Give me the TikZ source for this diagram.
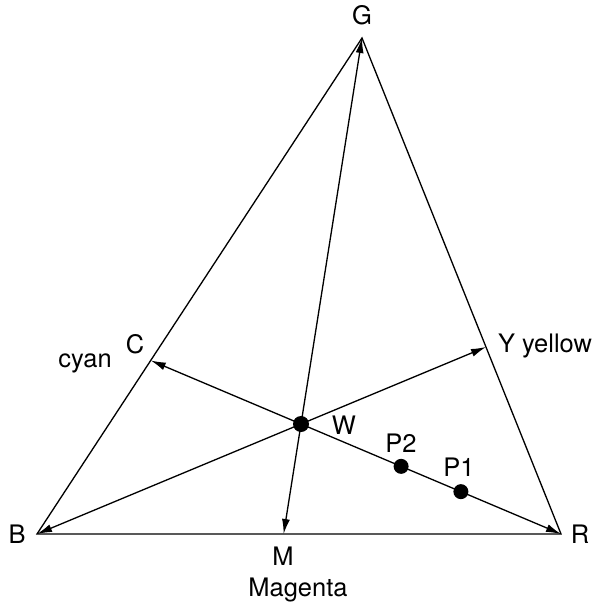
\documentclass[tikz,border=0pt]{standalone}
\usepackage{fontspec}
\setmainfont{TeX Gyre Heros}
\usetikzlibrary{arrows.meta,calc}

\begin{document}
\begin{tikzpicture}[x=0.02cm,y=-0.02cm,
  line width=0.75pt,
  font=\fontsize{14.5}{17}\selectfont,
  ray/.style={-{Latex[length=3mm,width=1.6mm]}},
  spot/.style={circle,fill=black,inner sep=0pt,minimum size=#1},
  lbl/.style={anchor=base,inner sep=0pt}
]
\useasboundingbox (0,0) rectangle (595,605);
% primaries and white point
\coordinate (G) at (362,38);
\coordinate (B) at (37,534);
\coordinate (R) at (561,534);
\coordinate (W) at (301,424);
% complementaries on the opposite sides
\coordinate (C) at (intersection of W--R and B--G);
\coordinate (Y) at (intersection of W--B and G--R);
\coordinate (M) at (intersection of W--G and B--R);

\draw (B) -- (G) -- (R) -- cycle;
\foreach \tip in {G,B,R,C,Y,M}
  \draw[ray] (W) -- (\tip);

\node[spot=3.2mm] (wdot) at (W) {};
\node[spot=3mm] (p2) at ($(W)!0.385!(R)$) {};
\node[spot=3mm] (p1) at ($(W)!0.615!(R)$) {};

\node[lbl] (glbl) at (362,25) {G};
\node[lbl] (blbl) at (17,543) {B};
\node[lbl] (rlbl) at (580,543) {R};
\node[lbl] (mlbl) at (283,565) {M};
\node[lbl] (magenta) at (298,596) {Magenta};
\node[lbl] (clbl) at (135,353) {C};
\node[lbl] (cyan) at (85,367) {cyan};
\node[lbl] (ylbl) at (545,352) {Y yellow};
\node[lbl] (wlbl) at (344,434) {W};
\node[lbl] (p2lbl) at (401,452) {P2};
\node[lbl] (p1lbl) at (459,476) {P1};
\end{tikzpicture}
\end{document}
